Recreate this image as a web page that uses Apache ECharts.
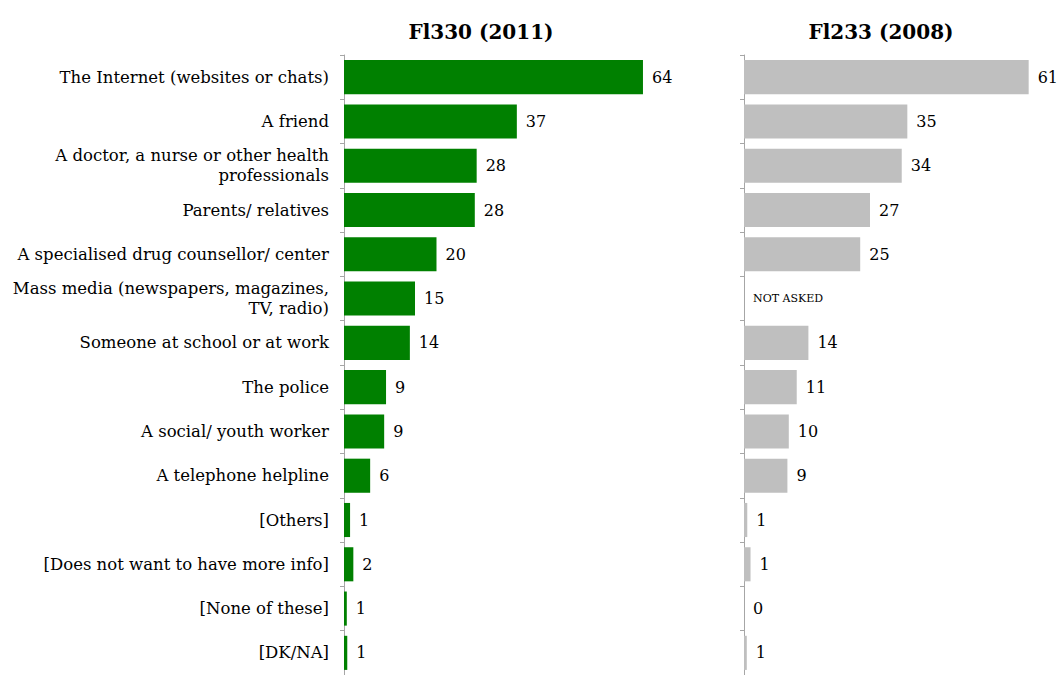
<!DOCTYPE html>
<html>
<head>
<meta charset="utf-8">
<script src="https://cdn.jsdelivr.net/npm/echarts@6/dist/echarts.min.js"></script>
<style>
  html, body { margin: 0; padding: 0; background: #fff; }
  #chart { width: 1057px; height: 675px; }
</style>
</head>
<body>
<div id="chart"></div>
<script>
// --- data ---
var categories = [
  'The Internet (websites or chats)',
  'A friend',
  'A doctor, a nurse or other health\nprofessionals',
  'Parents/ relatives',
  'A specialised drug counsellor/ center',
  'Mass media (newspapers, magazines,\nTV, radio)',
  'Someone at school or at work',
  'The police',
  'A social/ youth worker',
  'A telephone helpline',
  '[Others]',
  '[Does not want to have more info]',
  '[None of these]',
  '[DK/NA]'
];
// estimated unrounded values, labels show them rounded
var fl330 = [64, 37, 28.4, 28, 19.8, 15.2, 14.1, 9, 8.6, 5.6, 1.3, 2, 0.6, 0.7];
var fl233 = [61, 35, 33.8, 27, 24.9, null, 13.8, 11.3, 9.6, 9.3, 0.7, 1.4, 0, 0.6];
var titles = ['Fl330 (2011)', 'Fl233 (2008)'];

var font = 'DejaVu Serif';
var axisGray = '#a6a6a6';

var chart = echarts.init(document.getElementById('chart'), null, { renderer: 'svg' });

function yAxisFor(gridIndex, showLabels) {
  return {
    type: 'category',
    gridIndex: gridIndex,
    data: categories,
    inverse: true,
    axisLine: { lineStyle: { color: axisGray, width: 1 } },
    axisTick: { show: true, length: 4, lineStyle: { color: axisGray } },
    axisLabel: {
      show: showLabels,
      color: '#000',
      fontFamily: font,
      fontSize: 16.5,
      lineHeight: 20,
      margin: 15,
      align: 'right'
    }
  };
}

var rightData = fl233.map(function(v) {
  if (v === null) {
    return { value: 0, label: { formatter: 'NOT ASKED', fontSize: 11 } };
  }
  return v;
});

var valueLabel = {
  show: true,
  position: 'right',
  distance: 9,
  color: '#000',
  fontFamily: font,
  fontSize: 16,
  formatter: function(p) { return Math.round(p.value); }
};

chart.setOption({
  animation: false,
  title: [
    { text: titles[0], left: 476, top: 17, textAlign: 'center',
      textStyle: { fontFamily: font, fontSize: 20, fontWeight: 'bold', color: '#000' } },
    { text: titles[1], left: 876, top: 17, textAlign: 'center',
      textStyle: { fontFamily: font, fontSize: 20, fontWeight: 'bold', color: '#000' } }
  ],
  grid: [
    { left: 344, top: 55, width: 327, height: 620 },
    { left: 744, top: 55, width: 308, height: 620 }
  ],
  xAxis: [
    { type: 'value', gridIndex: 0, min: 0, max: 70, show: false },
    { type: 'value', gridIndex: 1, min: 0, max: 66, show: false }
  ],
  yAxis: [yAxisFor(0, true), yAxisFor(1, false)],
  series: [
    {
      type: 'bar',
      xAxisIndex: 0,
      yAxisIndex: 0,
      data: fl330,
      barCategoryGap: '23%',
      itemStyle: { color: '#008000' },
      label: valueLabel
    },
    {
      type: 'bar',
      xAxisIndex: 1,
      yAxisIndex: 1,
      data: rightData,
      barCategoryGap: '23%',
      itemStyle: { color: '#bfbfbf' },
      label: valueLabel
    }
  ]
});
window.addEventListener('resize', function() { chart.resize(); });
</script>
</body>
</html>
